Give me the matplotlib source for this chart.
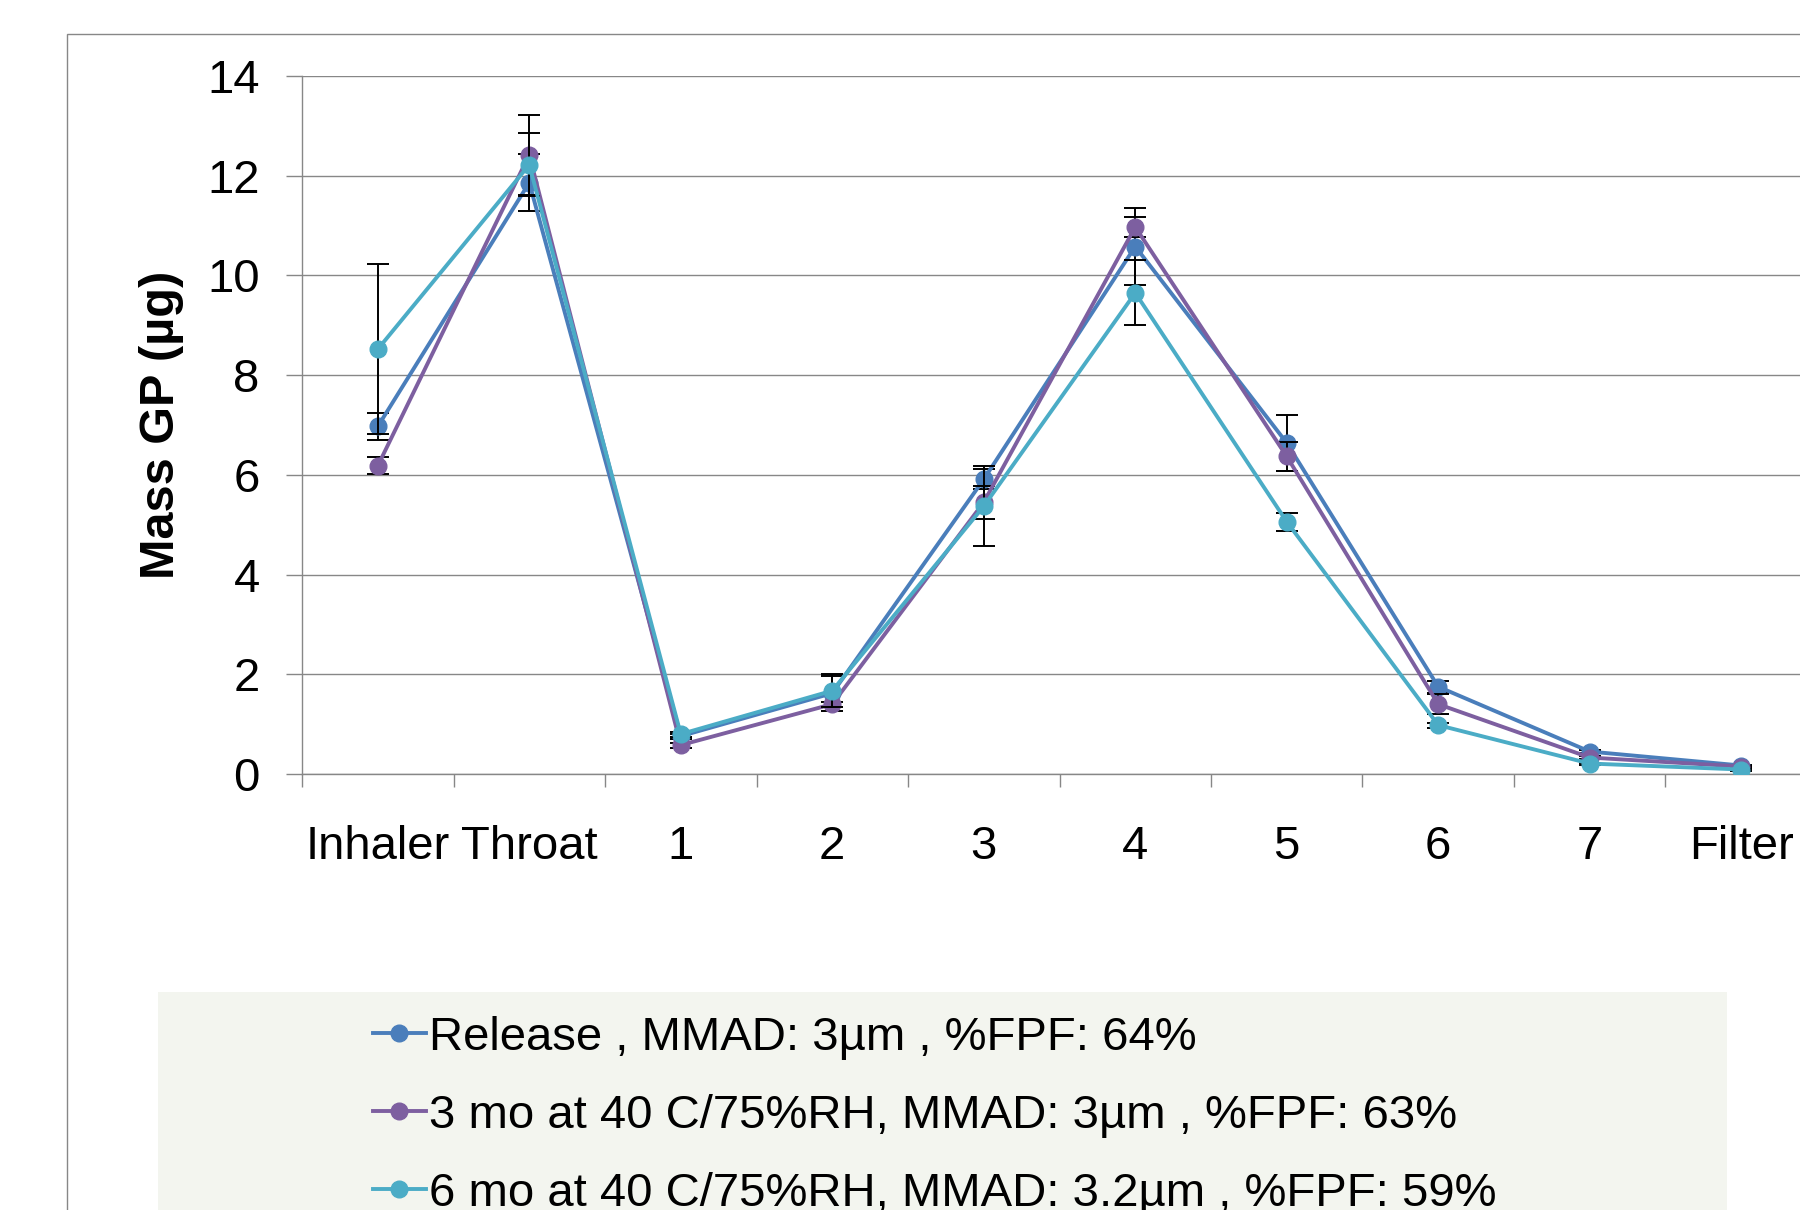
import matplotlib
matplotlib.use('Agg')
import matplotlib.pyplot as plt
from matplotlib.patches import Rectangle

# data
categories = ['Inhaler', 'Throat', '1', '2', '3', '4', '5', '6', '7', 'Filter']

release = [6.97, 11.86, 0.76, 1.62, 5.91, 10.58, 6.64, 1.75, 0.45, 0.17]
release_err = [0.27, 0.57, 0.05, 0.35, 0.20, 0.78, 0.56, 0.12, 0.03, 0.02]

mo3 = [6.18, 12.42, 0.58, 1.40, 5.45, 10.97, 6.37, 1.40, 0.33, 0.15]
mo3_err = [0.17, 0.80, 0.05, 0.05, 0.33, 0.20, 0.29, 0.20, 0.03, 0.02]

mo6 = [8.52, 12.22, 0.80, 1.67, 5.37, 9.65, 5.06, 0.98, 0.21, 0.09]
mo6_err = [1.70, 0.63, 0.05, 0.33, 0.80, 0.65, 0.18, 0.05, 0.02, 0.02]

labels = ['Release , MMAD: 3µm , %FPF: 64%',
          '3 mo at 40 C/75%RH, MMAD: 3µm , %FPF: 63%',
          '6 mo at 40 C/75%RH, MMAD: 3.2µm , %FPF: 59%']
colors = ['#4A7EBB', '#7D5FA0', '#4BACC6']

plt.rcParams['font.family'] = ['Liberation Sans', 'DejaVu Sans']
grey = '#878787'

W, H = 1800, 1210
fig = plt.figure(figsize=(W / 100, H / 100), dpi=100)

# outer chart border and legend background
fig.patches.append(Rectangle((67 / W, -0.1), 1.2, 1 - 34 / H + 0.1, transform=fig.transFigure,
                             fill=False, edgecolor=grey, linewidth=1.0, zorder=0))
fig.patches.append(Rectangle((158 / W, -0.1), (1727 - 158) / W, 1 - 992 / H + 0.1,
                             transform=fig.transFigure, facecolor='#F3F5EF',
                             edgecolor='none', zorder=0))

ax = fig.add_axes([302 / W, 1 - 774 / H, 1515 / W, 698 / H])
x = list(range(len(categories)))

series = [(release, release_err), (mo3, mo3_err), (mo6, mo6_err)]
for i, (vals, errs) in enumerate(series):
    ax.errorbar(x, vals, yerr=errs, fmt='none', ecolor='black', elinewidth=1.4,
                capsize=8, capthick=1.4, zorder=2 + i * 2)
    ax.plot(x, vals, color=colors[i], linewidth=2.8, marker='o', markersize=12,
            label=labels[i], zorder=3 + i * 2)

ax.set_xlim(-0.5, 9.5)
ax.set_ylim(0, 14)
ax.set_yticks(range(0, 15, 2))
ax.yaxis.grid(True, color=grey, linewidth=1.0)
ax.set_axisbelow(True)

ax.set_xticks([i - 0.5 for i in range(len(categories) + 1)])
ax.set_xticklabels([])
ax.set_xticks(x, minor=True)
ax.set_xticklabels(categories, minor=True)
ax.tick_params(axis='x', which='major', length=9.5, width=1.0, color=grey, direction='out')
ax.tick_params(axis='x', which='minor', length=0, pad=37, labelsize=34)
ax.tick_params(axis='y', length=11.5, width=1.0, color=grey, direction='out',
               pad=19, labelsize=34)

for s in ['top', 'right']:
    ax.spines[s].set_visible(False)
for s in ['left', 'bottom']:
    ax.spines[s].set_color(grey)
    ax.spines[s].set_linewidth(1.0)

fig.text(162 / W, 1 - 425 / H, 'Mass GP (µg)', rotation=90, ha='center', va='center',
         fontsize=35, fontweight='bold')

handles, labs = ax.get_legend_handles_labels()
fig.legend(handles, labs, loc='upper left', bbox_to_anchor=(373 / W, 1 - 1016 / H),
           frameon=False, fontsize=34, handlelength=1.12, handletextpad=0.06,
           labelspacing=0.72, borderpad=0, borderaxespad=0)

fig.savefig('out.png', dpi=100)
